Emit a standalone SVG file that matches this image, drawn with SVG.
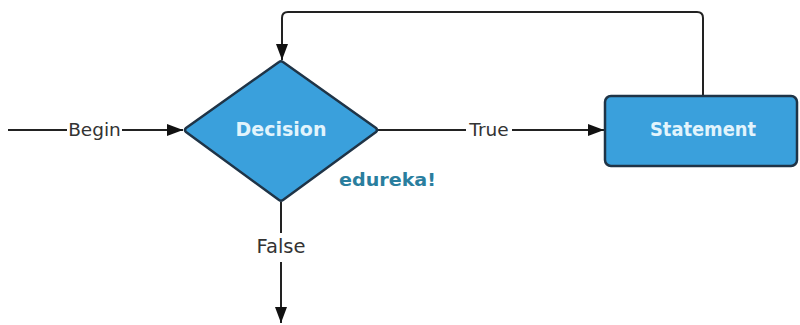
<svg xmlns="http://www.w3.org/2000/svg" width="800" height="325" viewBox="0 0 800 325">
  <style>
    .edge { fill: none; stroke: #222; stroke-width: 2; }
    .shape { fill: #3aa0dc; stroke: #1f3447; stroke-width: 2.5; stroke-linejoin: round; }
    .node-label { font-family: "DejaVu Sans", "Liberation Sans", sans-serif; font-size: 19px; font-weight: bold; fill: #e2f4fc; text-anchor: middle; dominant-baseline: central; }
    .edge-label { font-family: "DejaVu Sans", "Liberation Sans", sans-serif; font-size: 18.5px; fill: #333; text-anchor: middle; dominant-baseline: central; }
    .label-bg { fill: #ffffff; }
    .brand { font-family: "DejaVu Sans", "Liberation Sans", sans-serif; font-size: 18px; font-weight: bold; fill: #2a7e9e; }
  </style>
  <defs>
    <marker id="arrow" viewBox="0 0 16 12" refX="16" refY="6" markerWidth="16" markerHeight="12" markerUnits="userSpaceOnUse" orient="auto">
      <path d="M0,0 L16,6 L0,12 z" fill="#111"/>
    </marker>
  </defs>
  <rect width="800" height="325" fill="#ffffff"/>

  <g id="connectors">
    <!-- Begin -> Decision -->
    <path class="edge" d="M8,130 H183" marker-end="url(#arrow)"/>
    <!-- Decision -> Statement (True) -->
    <path class="edge" d="M378,130 H604" marker-end="url(#arrow)"/>
    <!-- Statement -> Decision (loop back) -->
    <path class="edge" d="M703,96 V18 Q703,12 697,12 H288 Q282,12 282,18 V60" marker-end="url(#arrow)"/>
    <!-- Decision -> exit (False) -->
    <path class="edge" d="M281,202 V323" marker-end="url(#arrow)"/>
  </g>

  <g id="edge-labels">
    <rect class="label-bg" x="67" y="119" width="55" height="22"/>
    <text class="edge-label" x="94.5" y="129">Begin</text>
    <rect class="label-bg" x="466" y="119" width="46" height="22"/>
    <text class="edge-label" x="489" y="129">True</text>
    <rect class="label-bg" x="252" y="233" width="58" height="29"/>
    <text class="edge-label" x="281" y="246" style="font-size:19.5px">False</text>
  </g>

  <g id="decision">
    <path class="shape" d="M186,128 L279,62 Q281,60.5 283,62 L376,128 Q378,130 376,132 L283,200 Q281,201.5 279,200 L186,132 Q184,130 186,128 z"/>
    <text class="node-label" x="281" y="129">Decision</text>
  </g>

  <g id="statement">
    <rect class="shape" x="605" y="96" width="192" height="70" rx="6" ry="6"/>
    <text class="node-label" x="703" y="129" textLength="106" lengthAdjust="spacingAndGlyphs">Statement</text>
  </g>

  <text class="brand" x="339" y="186" textLength="97" lengthAdjust="spacingAndGlyphs">edureka!</text>
</svg>
